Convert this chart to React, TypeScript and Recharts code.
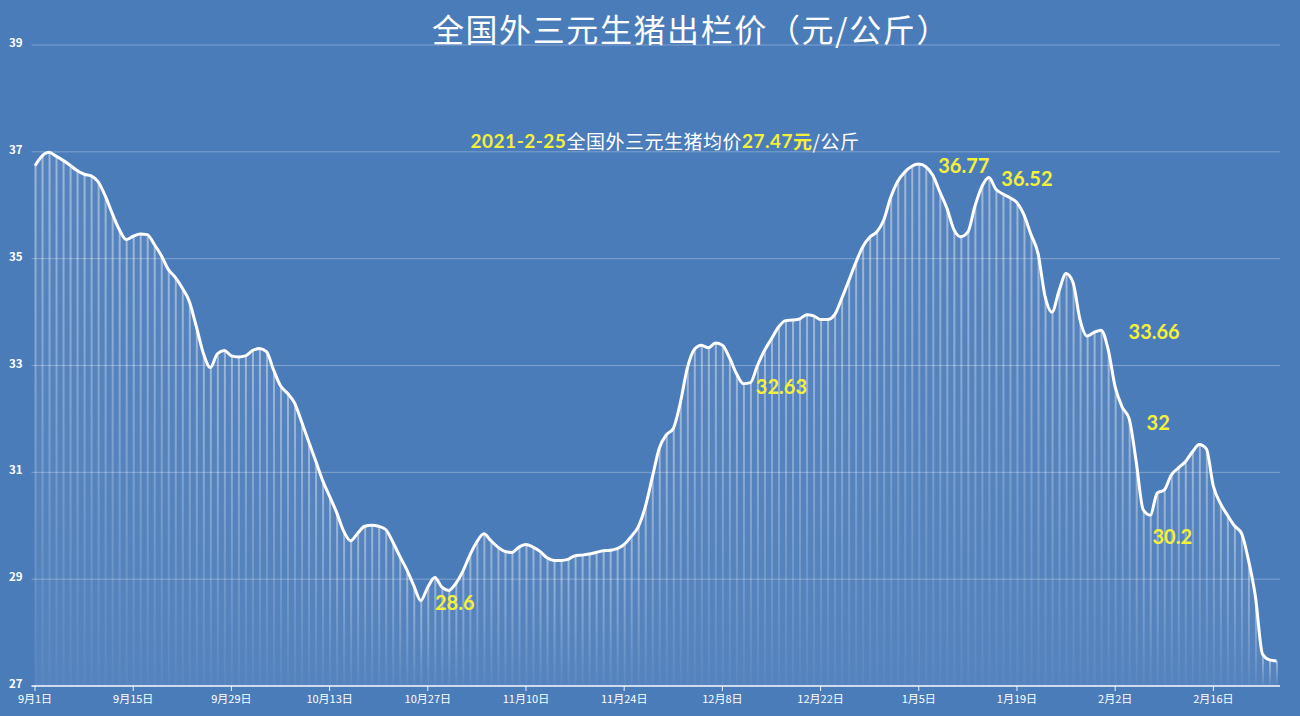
import {
  Area,
  Bar,
  CartesianGrid,
  ComposedChart,
  Line,
  XAxis,
  YAxis,
} from "recharts";

// 2020-09-01 .. 2021-02-25, one point per day
const startYear = 2020;
const startMonth = 8;
const dayCount = 178;

const dates = Array.from({ length: dayCount }, (_, i) => {
  const d = new Date(startYear, startMonth, 1 + i);
  return `${d.getMonth() + 1}月${d.getDate()}日`;
});

const prices = [
  36.74, 36.92, 36.99, 36.92, 36.84, 36.75, 36.65, 36.58, 36.55, 36.44,
  36.18, 35.85, 35.55, 35.36, 35.42, 35.46, 35.45, 35.27, 35.06, 34.8,
  34.65, 34.45, 34.2, 33.73, 33.23, 32.96, 33.22, 33.28, 33.18, 33.16,
  33.18, 33.28, 33.32, 33.26, 32.92, 32.62, 32.48, 32.3, 31.95, 31.58,
  31.22, 30.85, 30.55, 30.25, 29.9, 29.72, 29.86, 29.99, 30.01, 29.99,
  29.93, 29.7, 29.43, 29.18, 28.88, 28.6, 28.85, 29.03, 28.85, 28.79,
  28.92, 29.15, 29.45, 29.7, 29.85, 29.72, 29.6, 29.52, 29.5, 29.6,
  29.65, 29.6, 29.52, 29.4, 29.35, 29.35, 29.37, 29.44, 29.45, 29.47,
  29.5, 29.53, 29.54, 29.57, 29.65, 29.8, 29.98, 30.35, 30.9, 31.45,
  31.7, 31.82, 32.3, 32.95, 33.3, 33.38, 33.33, 33.42, 33.38, 33.15,
  32.85, 32.66, 32.68, 33.0, 33.28, 33.5, 33.72, 33.84, 33.85, 33.87,
  33.95, 33.93, 33.86, 33.86, 33.95, 34.25, 34.58, 34.92, 35.22, 35.4,
  35.5, 35.72, 36.15, 36.45, 36.62, 36.73, 36.77, 36.72, 36.56, 36.25,
  35.95, 35.55, 35.41, 35.5, 35.98, 36.35, 36.52, 36.3, 36.21, 36.14,
  36.05, 35.82, 35.45, 35.1, 34.3, 34.0, 34.4, 34.72, 34.55, 33.85,
  33.55, 33.62, 33.66, 33.3, 32.6, 32.22, 32.0, 31.2, 30.3, 30.2,
  30.61, 30.67, 30.95, 31.08, 31.2, 31.38, 31.52, 31.44, 30.74, 30.42,
  30.2, 30.0, 29.86, 29.36, 28.67, 27.6, 27.49, 27.47,
];

const xTicks = [
  "9月1日", "9月15日", "9月29日", "10月13日", "10月27日", "11月10日", "11月24日",
  "12月8日", "12月22日", "1月5日", "1月19日", "2月2日", "2月16日",
];
const yTicks = [27, 29, 31, 33, 35, 37, 39];

// callouts: index of the day, text, offset from the point
const callouts = [
  { index: 55, text: "28.6", dx: 34, dy: 1 },
  { index: 101, text: "32.63", dx: 38, dy: 2 },
  { index: 126, text: "36.77", dx: 45, dy: 1 },
  { index: 136, text: "36.52", dx: 38, dy: 1 },
  { index: 152, text: "33.66", dx: 53, dy: 1 },
  { index: 156, text: "32", dx: 29, dy: 3 },
  { index: 159, text: "30.2", dx: 22, dy: 21 },
];

const data = dates.map((date, i) => ({ date, price: prices[i] }));

const BG = "#4b7cba";
const YELLOW = "#f4f03a";

function CalloutLabel(props: any) {
  const { x, y, index } = props;
  const c = callouts.find((item) => item.index === index);
  if (!c) return null;
  return (
    <text
      x={x + c.dx}
      y={y + c.dy}
      textAnchor="middle"
      dominantBaseline="central"
      fill={YELLOW}
      fontSize={20}
      fontWeight={700}
      fontFamily="Lato, 'Noto Sans', sans-serif"
    >
      {c.text}
    </text>
  );
}

export default function App() {
  return (
    <div
      style={{
        position: "absolute",
        left: 0,
        top: 0,
        width: 1300,
        height: 716,
        background: BG,
        fontFamily: "'Noto Sans CJK SC', sans-serif",
      }}
    >
      <ComposedChart
        width={1300}
        height={716}
        data={data}
        margin={{ top: 45, right: 20, left: 0, bottom: 0 }}
        barCategoryGap={0}
      >
        <defs>
          <linearGradient id="stripe" x1="0" y1="0" x2="0" y2="1">
            <stop offset="0%" stopColor="#ffffff" stopOpacity={0.42} />
            <stop offset="60%" stopColor="#ffffff" stopOpacity={0.2} />
            <stop offset="100%" stopColor="#ffffff" stopOpacity={0.03} />
          </linearGradient>
        </defs>
        <text
          x={691}
          y={28}
          textAnchor="middle"
          dominantBaseline="central"
          fill="#ffffff"
          fontSize={32}
          letterSpacing={1.6}
          fontFamily="'Noto Sans CJK SC', sans-serif"
        >
          全国外三元生猪出栏价（元/公斤）
        </text>
        <text
          x={665}
          y={140}
          textAnchor="middle"
          dominantBaseline="central"
          fontSize={19}
          letterSpacing={0.5}
          fontFamily="'Noto Sans CJK SC', sans-serif"
        >
          <tspan fill={YELLOW} fontWeight={700} fontFamily="Lato, sans-serif">2021-2-25</tspan>
          <tspan fill="#ffffff">全国外三元生猪均价</tspan>
          <tspan fill={YELLOW} fontWeight={700} fontFamily="Lato, sans-serif">27.47</tspan>
          <tspan fill={YELLOW} fontWeight={700}>元</tspan>
          <tspan fill="#ffffff">/公斤</tspan>
        </text>
        <CartesianGrid
          vertical={false}
          stroke="rgba(255,255,255,0.3)"
          strokeWidth={1}
        />
        <XAxis
          dataKey="date"
          ticks={xTicks}
          interval={0}
          height={30}
          axisLine={{ stroke: "rgba(255,255,255,0.9)", strokeWidth: 1.5 }}
          tickLine={{ stroke: "rgba(255,255,255,0.9)" }}
          tickSize={5}
          tickMargin={4}
          tick={{ fill: "#ffffff", fontSize: 11 }}
        />
        <YAxis
          domain={[27, 39]}
          ticks={yTicks}
          width={31.5}
          axisLine={false}
          tickLine={false}
          tickSize={0}
          tickMargin={9}
          tick={{ fill: "#ffffff", fontSize: 11.5, fontWeight: 700, dy: -2 }}
        />
        <Area
          type="monotone"
          dataKey="price"
          stroke="none"
          fill="#ffffff"
          fillOpacity={0.06}
          isAnimationActive={false}
        />
        <Bar
          dataKey="price"
          barSize={2}
          fill="url(#stripe)"
          isAnimationActive={false}
        />
        <Line
          type="monotone"
          dataKey="price"
          stroke="#ffffff"
          strokeWidth={3}
          dot={false}
          activeDot={false}
          label={CalloutLabel}
          isAnimationActive={false}
        />
      </ComposedChart>
    </div>
  );
}
